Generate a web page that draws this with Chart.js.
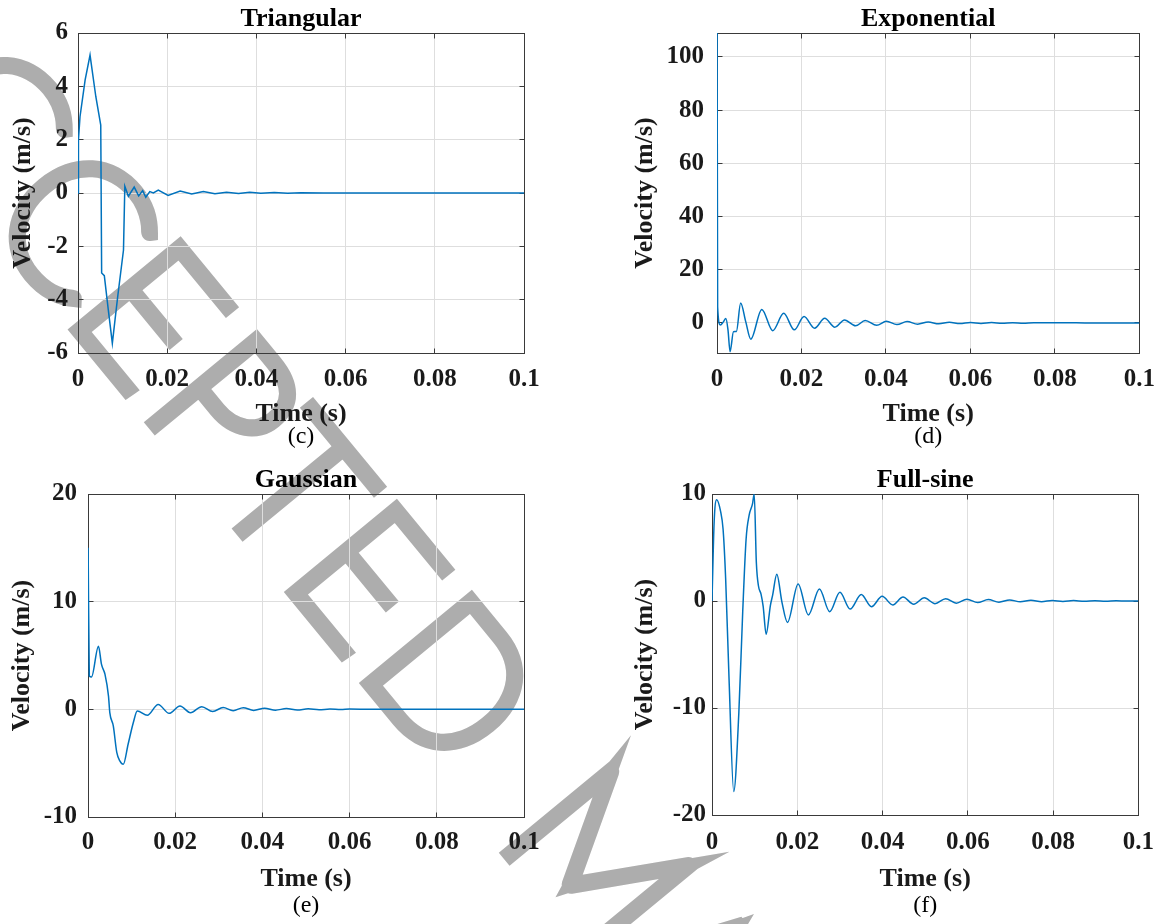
<!DOCTYPE html>
<html>
<head>
<meta charset="utf-8">
<script src="https://cdn.jsdelivr.net/npm/chart.js@4.4.1/dist/chart.umd.min.js"></script>
<style>
  html, body { margin: 0; padding: 0; background: #ffffff; }
  #fig { position: relative; width: 1169px; height: 924px; overflow: hidden; background: #ffffff; }
  #fig canvas { position: absolute; }
</style>
</head>
<body>
<div id="fig">
  <canvas id="wm" width="1169" height="924" style="left:0;top:0"></canvas>
  <canvas id="panelC" width="584" height="462" style="left:0;top:0"></canvas>
  <canvas id="panelD" width="585" height="462" style="left:584px;top:0"></canvas>
  <canvas id="panelE" width="584" height="462" style="left:0;top:462px"></canvas>
  <canvas id="panelF" width="585" height="462" style="left:584px;top:462px"></canvas>
</div>
<script>
// ---- shared time axis ----
const timeTicks = [0, 0.02, 0.04, 0.06, 0.08, 0.1];
const timeTickLabels = ['0', '0.02', '0.04', '0.06', '0.08', '0.1'];

// ---- (c) triangular pulse ----
const triangularTime = [0, 0.0001, 0.00045, 0.0016, 0.0027, 0.0040, 0.0051, 0.0053, 0.0059, 0.0068, 0.0077,
  0.0083, 0.0089, 0.0102, 0.0105, 0.0113, 0.0126, 0.0136, 0.0145, 0.0152, 0.0161, 0.0169, 0.0180,
  0.0202, 0.0229, 0.0255, 0.0281, 0.0307, 0.0333, 0.0360, 0.0385, 0.0410, 0.0440, 0.0470, 0.0500,
  0.0550, 0.1000];
const triangularVelocity = [0, 2.0, 2.86, 4.24, 5.17, 3.61, 2.55, -3.0, -3.1, -4.39, -5.64,
  -4.76, -3.89, -2.14, 0.25, -0.12, 0.22, -0.11, 0.09, -0.16, 0.05, 0.0, 0.11,
  -0.09, 0.07, -0.04, 0.06, -0.03, 0.03, -0.02, 0.03, -0.01, 0.02, -0.01, 0.01,
  0, 0];
const triangularTicks = [-6, -4, -2, 0, 2, 4, 6];

// ---- (d) exponential pulse ----
const exponentialTime = [0.00003, 0.00015, 0.0008, 0.0015, 0.0021, 0.0026, 0.0031, 0.0039, 0.0046, 0.0056,
  0.0068, 0.0080, 0.0106, 0.0132, 0.0158, 0.0183, 0.0206, 0.0231, 0.0255, 0.0279, 0.0302, 0.0328,
  0.0351, 0.0378, 0.0401, 0.0426, 0.0450, 0.0475, 0.0500, 0.0525, 0.0550, 0.0575, 0.0600, 0.0625,
  0.0650, 0.0675, 0.0700, 0.0725, 0.0750, 0.0800, 0.0850, 0.0900, 0.1000];
const exponentialVelocity = [109, 6.0, -0.8, 0.4, 1.7, -2.6, -10.8, -3.3, -3.2, 7.5,
  0.5, -6.1, 5.1, -2.9, 3.6, -2.6, 2.4, -2.0, 1.75, -1.6, 1.1, -1.1,
  0.9, -0.9, 0.6, -0.6, 0.5, -0.45, 0.35, -0.35, 0.25, -0.25, 0.18, -0.18,
  0.13, -0.13, 0.1, -0.1, 0.07, 0.05, 0.03, 0.01, 0];
const exponentialTicks = [0, 20, 40, 60, 80, 100];

// ---- (e) Gaussian pulse ----
const gaussianTime = [0.00003, 0.0003, 0.0008, 0.0024, 0.0031, 0.0039, 0.0047, 0.0050, 0.0058, 0.0066, 0.0073,
  0.0081, 0.0092, 0.0104, 0.0113, 0.0136, 0.0161, 0.0186, 0.0211, 0.0235, 0.0261, 0.0286, 0.0310,
  0.0333, 0.0356, 0.0380, 0.0405, 0.0430, 0.0455, 0.0480, 0.0505, 0.0530, 0.0555, 0.0580, 0.0600,
  0.0650, 0.1000];
const gaussianVelocity = [15, 3.1, 3.0, 5.86, 4.17, 3.24, 1.23, -0.3, -1.54, -4.0, -4.78,
  -5.1, -3.24, -1.23, -0.15, -0.55, 0.46, -0.37, 0.31, -0.31, 0.25, -0.2, 0.17,
  -0.12, 0.15, -0.1, 0.1, -0.08, 0.07, -0.06, 0.05, -0.04, 0.03, -0.02, 0.02,
  0, 0];
const gaussianTicks = [-10, 0, 10, 20];

// ---- (f) full-sine pulse ----
const fullSineTime = [0, 0.0005, 0.0011, 0.0020, 0.0026, 0.0032, 0.0040, 0.0051, 0.0063, 0.0072, 0.0080,
  0.0087, 0.0095, 0.0099, 0.0104, 0.0109, 0.0115, 0.0120, 0.0127, 0.0137, 0.0142, 0.0152, 0.0164,
  0.0177, 0.0202, 0.0226, 0.0252, 0.0276, 0.0300, 0.0324, 0.0350, 0.0374, 0.0399, 0.0424, 0.0448,
  0.0473, 0.0498, 0.0523, 0.0548, 0.0573, 0.0598, 0.0623, 0.0648, 0.0673, 0.0698, 0.0723, 0.0748,
  0.0773, 0.0798, 0.0823, 0.0848, 0.0873, 0.0898, 0.0923, 0.0948, 0.0973, 0.1000];
const fullSineVelocity = [0, 7.35, 9.47, 8.4, 6.7, 2.1, -7.3, -17.8, -10.4, -1.06, 5.8,
  8.0, 9.07, 10, 3.6, 1.4, 0.65, -0.5, -3.1, -0.4, 0.5, 2.5, -0.1,
  -2.0, 1.6, -1.3, 1.12, -1.0, 0.81, -0.75, 0.6, -0.53, 0.44, -0.37, 0.37,
  -0.3, 0.3, -0.25, 0.22, -0.2, 0.17, -0.15, 0.13, -0.11, 0.1, -0.08, 0.07,
  -0.06, 0.05, -0.04, 0.04, -0.03, 0.03, -0.02, 0.02, -0.01, 0];
const fullSineTicks = [-20, -10, 0, 10];

const SERIF = '"Liberation Serif", "Times New Roman", serif';
const LINE_BLUE = '#0072BD';

// Axes box with inward tick marks (under the curve) and panel texts
const framePlugin = {
  id: 'frame',
  beforeDatasetsDraw(chart) {
    const { ctx, chartArea: a, scales: { x, y } } = chart;
    const L = Math.floor(a.left) + 0.5, R = Math.floor(a.right) + 0.5;
    const T = Math.floor(a.top) + 0.5, B = Math.floor(a.bottom) + 0.5;
    const tl = 5;
    ctx.save();
    ctx.strokeStyle = '#3a3a3a';
    ctx.lineWidth = 1;
    ctx.beginPath();
    x.ticks.forEach(t => {
      const px = Math.floor(x.getPixelForValue(t.value)) + 0.5;
      ctx.moveTo(px, B); ctx.lineTo(px, B - tl);
      ctx.moveTo(px, T); ctx.lineTo(px, T + tl);
    });
    y.ticks.forEach(t => {
      const py = Math.floor(y.getPixelForValue(t.value)) + 0.5;
      ctx.moveTo(L, py); ctx.lineTo(L + tl, py);
      ctx.moveTo(R, py); ctx.lineTo(R - tl, py);
    });
    ctx.stroke();
    ctx.strokeRect(L, T, R - L, B - T);
    ctx.restore();
  },
  afterDraw(chart, args, opts) {
    const { ctx, chartArea: a } = chart;
    const cx = (a.left + a.right) / 2;
    const cy = (a.top + a.bottom) / 2;
    ctx.save();
    ctx.fillStyle = '#000';
    ctx.textAlign = 'center';
    ctx.textBaseline = 'alphabetic';
    ctx.font = 'bold 26px ' + SERIF;
    ctx.fillText(opts.title, cx, opts.titleBase);
    ctx.fillStyle = '#1a1a1a';
    ctx.fillText(opts.xLabel, cx, opts.xLabelBase);
    ctx.save();
    ctx.translate(opts.yLabelX, cy);
    ctx.rotate(-Math.PI / 2);
    ctx.fillText(opts.yLabel, 0, 0);
    ctx.restore();
    ctx.fillStyle = '#000';
    ctx.font = '24px ' + SERIF;
    ctx.fillText(opts.caption, cx, opts.captionBase);
    ctx.restore();
  }
};

function buildPanel(canvasId, series, look) {
  const points = series.time.map((t, i) => ({ x: t, y: series.velocity[i] }));
  const tickFont = { family: SERIF, size: 25, weight: 'bold', lineHeight: 1 };
  return new Chart(document.getElementById(canvasId), {
    type: 'line',
    data: {
      datasets: [{
        data: points,
        borderColor: LINE_BLUE,
        borderWidth: 1.5,
        pointRadius: 0,
        fill: false,
        tension: 0,
        cubicInterpolationMode: series.smooth ? 'monotone' : 'default'
      }]
    },
    options: {
      responsive: false,
      animation: false,
      devicePixelRatio: 1,
      events: [],
      layout: { padding: { top: look.top, right: look.right, left: 0, bottom: 0 } },
      plugins: {
        legend: { display: false },
        tooltip: { enabled: false },
        frame: {
          title: series.title, xLabel: 'Time (s)', yLabel: 'Velocity (m/s)', caption: series.caption,
          titleBase: look.titleBase, xLabelBase: look.xLabelBase, captionBase: look.captionBase, yLabelX: look.yLabelX
        }
      },
      scales: {
        x: {
          type: 'linear', min: 0, max: 0.1,
          afterBuildTicks: s => { s.ticks = timeTicks.map(v => ({ value: v })); },
          afterFit: s => { s.height = look.bottom; },
          ticks: {
            autoSkip: false, maxRotation: 0, minRotation: 0,
            padding: look.xPad, color: '#1a1a1a', font: tickFont,
            callback: v => {
              const i = timeTicks.findIndex(t => Math.abs(t - v) < 1e-9);
              return i >= 0 ? timeTickLabels[i] : '';
            }
          },
          grid: { color: '#dedede', lineWidth: 1, drawTicks: false },
          border: { display: false }
        },
        y: {
          type: 'linear', min: series.yMin, max: series.yMax,
          afterBuildTicks: s => { s.ticks = series.yTicks.map(v => ({ value: v })); },
          afterFit: s => { s.width = look.left; },
          ticks: {
            autoSkip: false, padding: look.yPad, color: '#1a1a1a', font: tickFont,
            callback: v => String(v)
          },
          grid: { color: '#dedede', lineWidth: 1, drawTicks: false },
          border: { display: false }
        }
      }
    },
    plugins: [framePlugin]
  });
}

// Diagonal "ACCEPTED MANUSCRIPT" stamp drawn underneath the plots.
// Letters are placed one by one along a rotated baseline (left ink edge of each glyph).
const stampText = 'ACCEPTED MANUSCRIPT';
const stampInkLeft = [-110, 36, 170, 304, 424, 512, 644, 762, null, 982];

function drawStamp() {
  const ctx = document.getElementById('wm').getContext('2d');
  const size = 188;
  const angle = 50.5 * Math.PI / 180;
  const baseline = 150;
  ctx.save();
  ctx.rotate(angle);
  ctx.font = '100 ' + size + 'px Lato, Inter, Roboto, sans-serif';
  ctx.strokeStyle = '#adadad';
  ctx.lineWidth = 15;
  ctx.lineJoin = 'miter';
  let nextLeft = 0;
  for (let i = 0; i < stampText.length; i++) {
    const ch = stampText[i];
    if (ch === ' ') continue;
    const m = ctx.measureText(ch);
    const inkW = m.actualBoundingBoxLeft + m.actualBoundingBoxRight;
    const left = (i < stampInkLeft.length && stampInkLeft[i] !== null) ? stampInkLeft[i] : nextLeft;
    ctx.strokeText(ch, left + m.actualBoundingBoxLeft, baseline);
    nextLeft = left + inkW + 22;
  }
  ctx.restore();
}

drawStamp();

buildPanel('panelC',
  { time: triangularTime, velocity: triangularVelocity, yTicks: triangularTicks, yMin: -6, yMax: 6,
    title: 'Triangular', caption: '(c)', smooth: false },
  { left: 78, top: 33, right: 60, bottom: 109, titleBase: 26, xLabelBase: 421, captionBase: 443, yLabelX: 30, xPad: 14, yPad: 10 });

buildPanel('panelD',
  { time: exponentialTime, velocity: exponentialVelocity, yTicks: exponentialTicks, yMin: -11.3, yMax: 109,
    title: 'Exponential', caption: '(d)', smooth: true },
  { left: 133, top: 33, right: 21, bottom: 109, titleBase: 26, xLabelBase: 421, captionBase: 443, yLabelX: 68, xPad: 14, yPad: 13 });

buildPanel('panelE',
  { time: gaussianTime, velocity: gaussianVelocity, yTicks: gaussianTicks, yMin: -10, yMax: 20,
    title: 'Gaussian', caption: '(e)', smooth: true },
  { left: 88, top: 32, right: 60, bottom: 107, titleBase: 25, xLabelBase: 424, captionBase: 450, yLabelX: 29, xPad: 13, yPad: 11 });

buildPanel('panelF',
  { time: fullSineTime, velocity: fullSineVelocity, yTicks: fullSineTicks, yMin: -20, yMax: 10,
    title: 'Full-sine', caption: '(f)', smooth: true },
  { left: 128, top: 32, right: 21, bottom: 109, titleBase: 25, xLabelBase: 424, captionBase: 450, yLabelX: 68, xPad: 15, yPad: 6 });
</script>
</body>
</html>
